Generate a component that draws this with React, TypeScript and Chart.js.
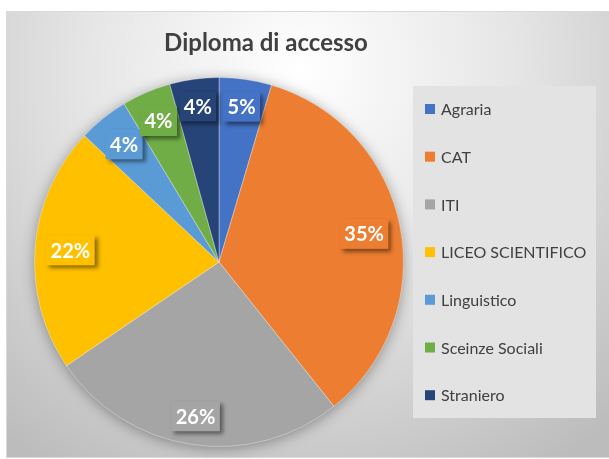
import React, { useEffect, useRef } from "react";
import { Chart, registerables } from "chart.js";

Chart.register(...registerables);

const titleText = "Diploma di accesso";
const categories = [
  "Agraria",
  "CAT",
  "ITI",
  "LICEO SCIENTIFICO",
  "Linguistico",
  "Sceinze Sociali",
  "Straniero",
];
const shares = [4.6, 34.7, 26.2, 21.5, 4.4, 4.3, 4.3];
const sliceColors = [
  "#4472C4",
  "#ED7D31",
  "#A5A5A5",
  "#FFC000",
  "#5B9BD5",
  "#70AD47",
  "#264478",
];

const FONT = "Lato, 'Open Sans', sans-serif";

const framePlugin = {
  id: "frameBg",
  beforeDraw(chart: any) {
    const { ctx } = chart;
    ctx.save();
    const g = ctx.createRadialGradient(300, 70, 0, 300, 70, 470);
    g.addColorStop(0, "#ffffff");
    g.addColorStop(0.45, "#e6e6e6");
    g.addColorStop(1, "#bcbcbc");
    ctx.fillStyle = g;
    ctx.fillRect(6, 11, 603, 447);
    ctx.strokeStyle = "#d9d9d9";
    ctx.lineWidth = 1;
    ctx.strokeRect(6.5, 11.5, 603, 446);
    // title
    ctx.fillStyle = "#404040";
    ctx.font = `bold 24px ${FONT}`;
    ctx.textAlign = "center";
    ctx.textBaseline = "middle";
    ctx.fillText(titleText, 266, 43);
    ctx.restore();
  },
  beforeDatasetsDraw(chart: any) {
    const meta = chart.getDatasetMeta(0);
    const a = meta.data[0];
    if (!a) return;
    const { ctx } = chart;
    ctx.save();
    ctx.shadowColor = "rgba(0,0,0,0.35)";
    ctx.shadowBlur = 14;
    ctx.shadowOffsetX = 0;
    ctx.shadowOffsetY = 2;
    ctx.fillStyle = "#a5a5a5";
    ctx.beginPath();
    ctx.arc(a.x, a.y, a.outerRadius, 0, Math.PI * 2);
    ctx.fill();
    ctx.restore();
  },
  afterDatasetsDraw(chart: any) {
    const { ctx } = chart;
    const meta = chart.getDatasetMeta(0);
    const data = chart.data.datasets[0].data as number[];
    const total = data.reduce((s, v) => s + v, 0);
    ctx.save();
    ctx.font = `bold 20px ${FONT}`;
    ctx.textAlign = "center";
    ctx.textBaseline = "middle";
    meta.data.forEach((arc: any, i: number) => {
      const { x, y, startAngle, endAngle, outerRadius } = arc.getProps(
        ["x", "y", "startAngle", "endAngle", "outerRadius"],
        true
      );
      const mid = (startAngle + endAngle) / 2;
      const label = Math.round((data[i] / total) * 100) + "%";
      const tw = ctx.measureText(label).width;
      const bw = tw + 9;
      const bh = 30;
      const dx = Math.cos(mid);
      const dy = Math.sin(mid);
      const ext = Math.abs(dx) * (bw / 2) + Math.abs(dy) * (bh / 2);
      const r = outerRadius - 10 - ext;
      const cx = x + dx * r;
      const cy = y + dy * r;
      ctx.save();
      ctx.shadowColor = "rgba(0,0,0,0.45)";
      ctx.shadowBlur = 4;
      ctx.shadowOffsetX = 3;
      ctx.shadowOffsetY = 3;
      ctx.fillStyle = sliceColors[i];
      ctx.fillRect(cx - bw / 2, cy - bh / 2, bw, bh);
      ctx.restore();
      ctx.fillStyle = "#ffffff";
      ctx.fillText(label, cx, cy + 1);
    });
    ctx.restore();
  },
  afterDraw(chart: any) {
    const { ctx } = chart;
    ctx.save();
    ctx.fillStyle = "#e3e3e3";
    ctx.fillRect(413, 86, 183, 332);
    ctx.font = `16px ${FONT}`;
    ctx.textAlign = "left";
    ctx.textBaseline = "middle";
    categories.forEach((c, i) => {
      const yy = 109 + i * 47.7;
      ctx.fillStyle = sliceColors[i];
      ctx.fillRect(425, yy - 5, 10, 10);
      ctx.fillStyle = "#404040";
      ctx.fillText(c, 441, yy + 1);
    });
    ctx.restore();
  },
};

export default function App() {
  const ref = useRef<HTMLCanvasElement | null>(null);
  useEffect(() => {
    if (!ref.current) return;
    const chart = new Chart(ref.current, {
      type: "pie",
      data: {
        labels: categories,
        datasets: [
          {
            data: shares,
            backgroundColor: sliceColors,
            borderColor: "rgba(255,255,255,0.35)",
            borderWidth: 1,
          },
        ],
      },
      options: {
        responsive: false,
        animation: false,
        layout: { padding: { left: 34, right: 205, top: 77, bottom: 12 } },
        plugins: {
          legend: { display: false },
          title: { display: false },
          tooltip: { enabled: false },
        },
      },
      plugins: [framePlugin],
    });
    return () => chart.destroy();
  }, []);
  return (
    <div style={{ position: "absolute", left: 0, top: 0, width: 609, height: 459 }}>
      <canvas ref={ref} width={609} height={459} style={{ width: 609, height: 459 }} />
    </div>
  );
}
